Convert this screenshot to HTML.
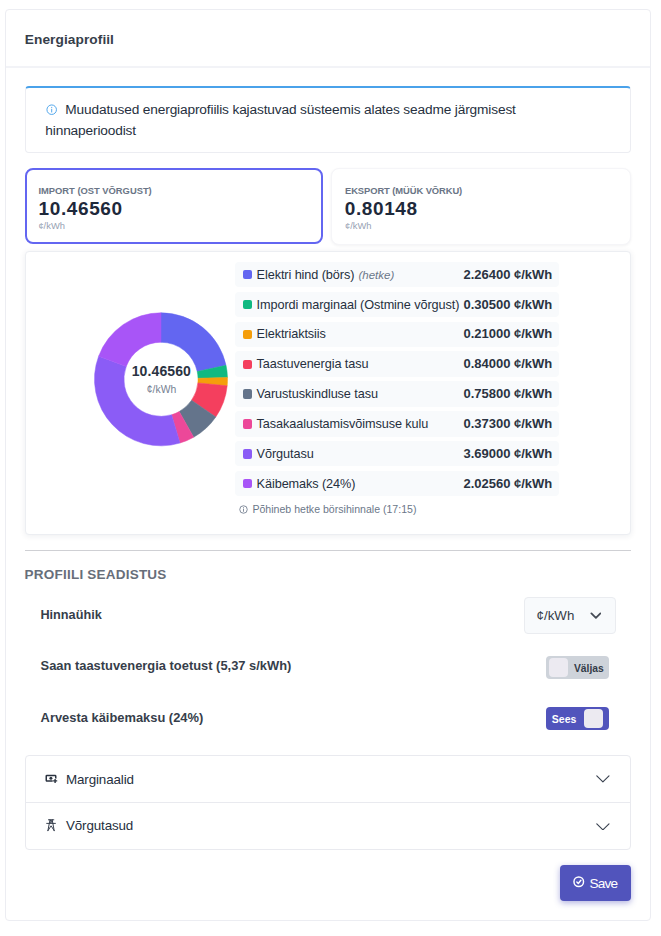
<!DOCTYPE html>
<html lang="et">
<head>
<meta charset="utf-8">
<title>Energiaprofiil</title>
<style>
*{box-sizing:border-box;margin:0;padding:0}
html,body{width:661px;height:936px;background:#fff;overflow:hidden}
body{font-family:"Liberation Sans",sans-serif;font-size:14px;color:#1e293b;position:relative}
.abs,.t{position:absolute}
.t{white-space:nowrap}
.card{left:5px;top:9px;width:646px;height:912px;border:1px solid #ecedf2;border-radius:4px;background:#fff}
.hdr-line{left:6px;top:66px;width:644px;height:2px;background:#f2f3f7}
.alert{left:25px;top:86px;width:606px;height:67px;border:1px solid #ecedf2;border-top:2px solid #4aa2ea;border-radius:4px;background:#fff}
.stat{height:76px;border-radius:7px;background:#fff}
.chartcard{left:25px;top:251px;width:606px;height:284px;border:1px solid #eceef2;border-radius:4px;background:#fff;box-shadow:0 1px 6px rgba(30,41,59,.08)}
.lg{position:absolute;left:235.3px;width:323.7px;height:25.5px;background:#f8fafc;border-radius:4px}
.lg i{position:absolute;left:7.6px;top:8.3px;width:9.3px;height:9.4px;border-radius:2px}
.hr{left:25px;top:550px;width:606px;height:1px;background:#cfd0d4}
.sel{left:524px;top:597px;width:92px;height:37px;border:1px solid #eaecf0;border-radius:4px;background:#f8fafc}
.tog{left:546.3px;width:62.4px;height:22.2px;border-radius:4px}
.tog b{position:absolute;top:2px;width:19px;height:19px;border-radius:4px;background:#eceaf1}
.acc{left:25px;top:755px;width:606px;height:94.5px;border:1px solid #e9eaef;border-radius:4px;background:#fff}
.accline{left:26px;top:801.5px;width:604px;height:1px;background:#e9eaef}
.btn{left:560.4px;top:865px;width:70.4px;height:35.7px;border-radius:4px;background:#5154bc;box-shadow:0 2px 6px rgba(79,82,186,.45)}
</style>
</head>
<body>
<div class="abs card"></div><div class="abs hdr-line"></div>
<div class="t" style="left:24.80px;top:29.25px;font-size:13.7px;line-height:21px;font-weight:700;color:#363e4a;letter-spacing:0.07px;font-style:normal;">Energiaprofiil</div>
<div class="abs alert"></div>
<svg class="abs" style="left:45.7px;top:104.4px" width="11.4" height="11.4" viewBox="0 0 24 24" fill="none" stroke="#4aa2ea" stroke-width="2"><circle cx="12" cy="12" r="10"/><path d="M12 11v6M12 7v.5" stroke-linecap="round"/></svg>
<div class="t" style="left:65.30px;top:99.25px;font-size:13.7px;line-height:21px;font-weight:400;color:#263040;letter-spacing:-0.145px;font-style:normal;">Muudatused energiaprofiilis kajastuvad süsteemis alates seadme järgmisest</div>
<div class="t" style="left:45.30px;top:120.25px;font-size:13.7px;line-height:21px;font-weight:400;color:#263040;letter-spacing:-0.145px;font-style:normal;">hinnaperioodist</div>
<div class="abs stat" style="left:25px;top:168px;width:298px;height:76px;border:2px solid #6366f1;border-radius:8px"></div>
<div class="abs stat" style="left:330.5px;top:167.5px;width:300.5px;height:77px;border:1px solid #f5f5f8;border-radius:8px;box-shadow:0 1px 3px rgba(30,41,59,.06)"></div>
<div class="t" style="left:38.40px;top:183.75px;font-size:9.4px;line-height:14px;font-weight:700;color:#6a7586;letter-spacing:-0.01px;font-style:normal;">IMPORT (OST VÕRGUST)</div>
<div class="t" style="left:38.60px;top:194.75px;font-size:19px;line-height:28px;font-weight:700;color:#1e293b;letter-spacing:0.6px;font-style:normal;">10.46560</div>
<div class="t" style="left:38.40px;top:218.75px;font-size:9.4px;line-height:14px;font-weight:400;color:#98a2b3;letter-spacing:0px;font-style:normal;">¢/kWh</div>
<div class="t" style="left:345.00px;top:183.75px;font-size:9.4px;line-height:14px;font-weight:700;color:#6a7586;letter-spacing:-0.08px;font-style:normal;">EKSPORT (MÜÜK VÕRKU)</div>
<div class="t" style="left:344.80px;top:194.75px;font-size:19px;line-height:28px;font-weight:700;color:#1e293b;letter-spacing:0.6px;font-style:normal;">0.80148</div>
<div class="t" style="left:345.00px;top:218.75px;font-size:9.4px;line-height:14px;font-weight:400;color:#98a2b3;letter-spacing:0px;font-style:normal;">¢/kWh</div>
<div class="abs chartcard"></div>
<svg class="abs" style="left:0;top:0" width="661" height="936" viewBox="0 0 661 936"><path d="M161.00 312.80A66.5 66.5 0 0 1 226.02 365.34L197.22 371.52A37.05 37.05 0 0 0 161.00 342.25Z" fill="#6366f1" stroke="#6366f1" stroke-width=".5"/><path d="M226.02 365.34A66.5 66.5 0 0 1 227.47 377.41L198.03 378.25A37.05 37.05 0 0 0 197.22 371.52Z" fill="#10b981" stroke="#10b981" stroke-width=".5"/><path d="M227.47 377.41A66.5 66.5 0 0 1 227.18 385.78L197.87 382.91A37.05 37.05 0 0 0 198.03 378.25Z" fill="#f59e0b" stroke="#f59e0b" stroke-width=".5"/><path d="M227.18 385.78A66.5 66.5 0 0 1 215.81 416.95L191.54 400.28A37.05 37.05 0 0 0 197.87 382.91Z" fill="#f43f5e" stroke="#f43f5e" stroke-width=".5"/><path d="M215.81 416.95A66.5 66.5 0 0 1 193.68 437.21L179.21 411.57A37.05 37.05 0 0 0 191.54 400.28Z" fill="#64748b" stroke="#64748b" stroke-width=".5"/><path d="M193.68 437.21A66.5 66.5 0 0 1 180.01 443.03L171.59 414.80A37.05 37.05 0 0 0 179.21 411.57Z" fill="#ec4899" stroke="#ec4899" stroke-width=".5"/><path d="M180.01 443.03A66.5 66.5 0 0 1 98.64 356.20L126.26 366.43A37.05 37.05 0 0 0 171.59 414.80Z" fill="#8b5cf6" stroke="#8b5cf6" stroke-width=".5"/><path d="M98.64 356.20A66.5 66.5 0 0 1 161.00 312.80L161.00 342.25A37.05 37.05 0 0 0 126.26 366.43Z" fill="#a855f7" stroke="#a855f7" stroke-width=".5"/></svg>
<div class="t" style="left:111.35px;top:360.75px;font-size:14px;line-height:21px;font-weight:700;color:#2a3342;letter-spacing:0.1px;font-style:normal;width:100px;text-align:center">10.46560</div>
<div class="t" style="left:111.50px;top:381.75px;font-size:10.4px;line-height:16px;font-weight:400;color:#768192;letter-spacing:0px;font-style:normal;width:100px;text-align:center">¢/kWh</div>
<div class="lg" style="top:261.80px"><i style="background:#6366f1"></i></div>
<div class="t" style="left:256.60px;top:265.75px;font-size:12.7px;line-height:19px;font-weight:400;color:#263040;letter-spacing:-0.09px;font-style:normal;">Elektri hind (börs)</div>
<div class="t" style="right:108.70px;top:264.75px;font-size:13px;line-height:20px;font-weight:700;color:#2a3342;letter-spacing:0px;font-style:normal;">2.26400 ¢/kWh</div>
<div class="lg" style="top:291.65px"><i style="background:#10b981"></i></div>
<div class="t" style="left:256.60px;top:295.75px;font-size:12.7px;line-height:19px;font-weight:400;color:#263040;letter-spacing:-0.09px;font-style:normal;">Impordi marginaal (Ostmine võrgust)</div>
<div class="t" style="right:108.70px;top:294.75px;font-size:13px;line-height:20px;font-weight:700;color:#2a3342;letter-spacing:0px;font-style:normal;">0.30500 ¢/kWh</div>
<div class="lg" style="top:321.50px"><i style="background:#f59e0b"></i></div>
<div class="t" style="left:256.60px;top:324.75px;font-size:12.7px;line-height:19px;font-weight:400;color:#263040;letter-spacing:-0.09px;font-style:normal;">Elektriaktsiis</div>
<div class="t" style="right:108.70px;top:323.75px;font-size:13px;line-height:20px;font-weight:700;color:#2a3342;letter-spacing:0px;font-style:normal;">0.21000 ¢/kWh</div>
<div class="lg" style="top:351.35px"><i style="background:#f43f5e"></i></div>
<div class="t" style="left:256.60px;top:354.75px;font-size:12.7px;line-height:19px;font-weight:400;color:#263040;letter-spacing:-0.09px;font-style:normal;">Taastuvenergia tasu</div>
<div class="t" style="right:108.70px;top:353.75px;font-size:13px;line-height:20px;font-weight:700;color:#2a3342;letter-spacing:0px;font-style:normal;">0.84000 ¢/kWh</div>
<div class="lg" style="top:381.20px"><i style="background:#64748b"></i></div>
<div class="t" style="left:256.60px;top:384.75px;font-size:12.7px;line-height:19px;font-weight:400;color:#263040;letter-spacing:-0.09px;font-style:normal;">Varustuskindluse tasu</div>
<div class="t" style="right:108.70px;top:383.75px;font-size:13px;line-height:20px;font-weight:700;color:#2a3342;letter-spacing:0px;font-style:normal;">0.75800 ¢/kWh</div>
<div class="lg" style="top:411.05px"><i style="background:#ec4899"></i></div>
<div class="t" style="left:256.60px;top:414.75px;font-size:12.7px;line-height:19px;font-weight:400;color:#263040;letter-spacing:-0.09px;font-style:normal;">Tasakaalustamisvõimsuse kulu</div>
<div class="t" style="right:108.70px;top:413.75px;font-size:13px;line-height:20px;font-weight:700;color:#2a3342;letter-spacing:0px;font-style:normal;">0.37300 ¢/kWh</div>
<div class="lg" style="top:440.90px"><i style="background:#8b5cf6"></i></div>
<div class="t" style="left:256.60px;top:444.75px;font-size:12.7px;line-height:19px;font-weight:400;color:#263040;letter-spacing:-0.09px;font-style:normal;">Võrgutasu</div>
<div class="t" style="right:108.70px;top:443.75px;font-size:13px;line-height:20px;font-weight:700;color:#2a3342;letter-spacing:0px;font-style:normal;">3.69000 ¢/kWh</div>
<div class="lg" style="top:470.75px"><i style="background:#a855f7"></i></div>
<div class="t" style="left:256.60px;top:474.75px;font-size:12.7px;line-height:19px;font-weight:400;color:#263040;letter-spacing:-0.09px;font-style:normal;">Käibemaks (24%)</div>
<div class="t" style="right:108.70px;top:473.75px;font-size:13px;line-height:20px;font-weight:700;color:#2a3342;letter-spacing:0px;font-style:normal;">2.02560 ¢/kWh</div>
<div class="t" style="left:358.50px;top:266.75px;font-size:11.5px;line-height:17px;font-weight:400;color:#6b7789;letter-spacing:0px;font-style:italic;">(hetke)</div>
<svg class="abs" style="left:238.5px;top:505px" width="9" height="9" viewBox="0 0 24 24" fill="none" stroke="#6b7789" stroke-width="2.2"><circle cx="12" cy="12" r="10"/><path d="M12 11v6M12 7v.5" stroke-linecap="round"/></svg>
<div class="t" style="left:252.40px;top:501.25px;font-size:10.59px;line-height:16px;font-weight:400;color:#6b7789;letter-spacing:0px;font-style:normal;">Põhineb hetke börsihinnale (17:15)</div>
<div class="abs hr"></div>
<div class="t" style="left:24.60px;top:564.75px;font-size:13.5px;line-height:20px;font-weight:700;color:#676e7a;letter-spacing:0.22px;font-style:normal;">PROFIILI SEADISTUS</div>
<div class="t" style="left:40.40px;top:605.75px;font-size:12.7px;line-height:19px;font-weight:700;color:#363e4a;letter-spacing:0px;font-style:normal;">Hinnaühik</div>
<div class="t" style="left:40.60px;top:656.25px;font-size:12.9px;line-height:19px;font-weight:700;color:#363e4a;letter-spacing:0px;font-style:normal;">Saan taastuvenergia toetust (5,37 s/kWh)</div>
<div class="t" style="left:40.60px;top:708.25px;font-size:12.9px;line-height:19px;font-weight:700;color:#363e4a;letter-spacing:0px;font-style:normal;">Arvesta käibemaksu (24%)</div>
<div class="abs sel"></div>
<div class="t" style="left:536.60px;top:605.75px;font-size:13.3px;line-height:20px;font-weight:400;color:#343c48;letter-spacing:0px;font-style:normal;">¢/kWh</div>
<svg class="abs" style="left:589.7px;top:611.8px" width="11.8" height="7.5" viewBox="0 0 11.8 7.5" fill="none" stroke="#454b55" stroke-width="1.8" stroke-linecap="round" stroke-linejoin="round"><path d="M1.4 1.4L5.9 5.9l4.5-4.5"/></svg>
<div class="abs tog" style="top:656px;height:23px;background:#ced3da"><b style="left:2.8px"></b></div>
<div class="t" style="left:574.00px;top:661.25px;font-size:10.3px;line-height:15px;font-weight:700;color:#333b48;letter-spacing:0px;font-style:normal;">Väljas</div>
<div class="abs tog" style="top:707.4px;height:22.8px;background:#5154bc"><b style="left:37.7px"></b></div>
<div class="t" style="left:551.80px;top:711.25px;font-size:10.5px;line-height:16px;font-weight:700;color:#fff;letter-spacing:0px;font-style:normal;">Sees</div>
<div class="abs acc"></div><div class="abs accline"></div>
<div class="t" style="left:66.00px;top:769.75px;font-size:13.4px;line-height:20px;font-weight:400;color:#263040;letter-spacing:-0.13px;font-style:normal;">Marginaalid</div>
<div class="t" style="left:66.00px;top:815.75px;font-size:13.4px;line-height:20px;font-weight:400;color:#263040;letter-spacing:-0.13px;font-style:normal;">Võrgutasud</div>
<svg class="abs" style="left:44px;top:772px" width="16" height="14" viewBox="0 0 16 14" fill="none" stroke="#2b3340" stroke-width="1.5"><rect x="2.25" y="3.45" width="9.5" height="5.6" rx=".7"/><circle cx="6.9" cy="6.2" r="1.5" fill="#2b3340" stroke="none"/><path d="M11.1 6.4v4.8M8.7 8.8h4.8" stroke="#fff" stroke-width="3.4"/><path d="M11.1 6.9v4M9.1 8.9h4.1" stroke-width="1.4"/></svg>
<svg class="abs" style="left:44px;top:816px" width="16" height="18" viewBox="0 0 16 18" fill="none" stroke="#3a4250" stroke-width="1" stroke-linecap="round" stroke-linejoin="round"><path d="M4.4 3.8h5.4M2.7 7.4h8.7M6 3.8L3.9 14.7M8.2 3.8l2 10.9M3.9 14.7l3.2-4.9 3.1 4.9M6 3.8l2.5 3.6M8.2 3.8L5.7 7.4"/></svg>
<svg class="abs" style="left:596.3px;top:775.4px" width="13.8" height="7.8" viewBox="0 0 13.8 7.8" fill="none" stroke="#3a4250" stroke-width="1.15" stroke-linecap="round" stroke-linejoin="round"><path d="M.8 .8l6.1 6 6.1-6"/></svg>
<svg class="abs" style="left:596.3px;top:822.5px" width="13.8" height="7.8" viewBox="0 0 13.8 7.8" fill="none" stroke="#3a4250" stroke-width="1.15" stroke-linecap="round" stroke-linejoin="round"><path d="M.8 .8l6.1 6 6.1-6"/></svg>
<div class="abs btn"></div>
<svg class="abs" style="left:573.3px;top:876.2px" width="11.5" height="11.5" viewBox="0 0 24 24" fill="none" stroke="#fff" stroke-width="3" stroke-linecap="round" stroke-linejoin="round"><circle cx="12" cy="12" r="10"/><path d="M8 12.5l3 3 5.5-6.5"/></svg>
<div class="t" style="left:589.40px;top:873.75px;font-size:13.6px;line-height:20px;font-weight:400;color:#fff;letter-spacing:-0.75px;font-style:normal;">Save</div>
</body>
</html>
